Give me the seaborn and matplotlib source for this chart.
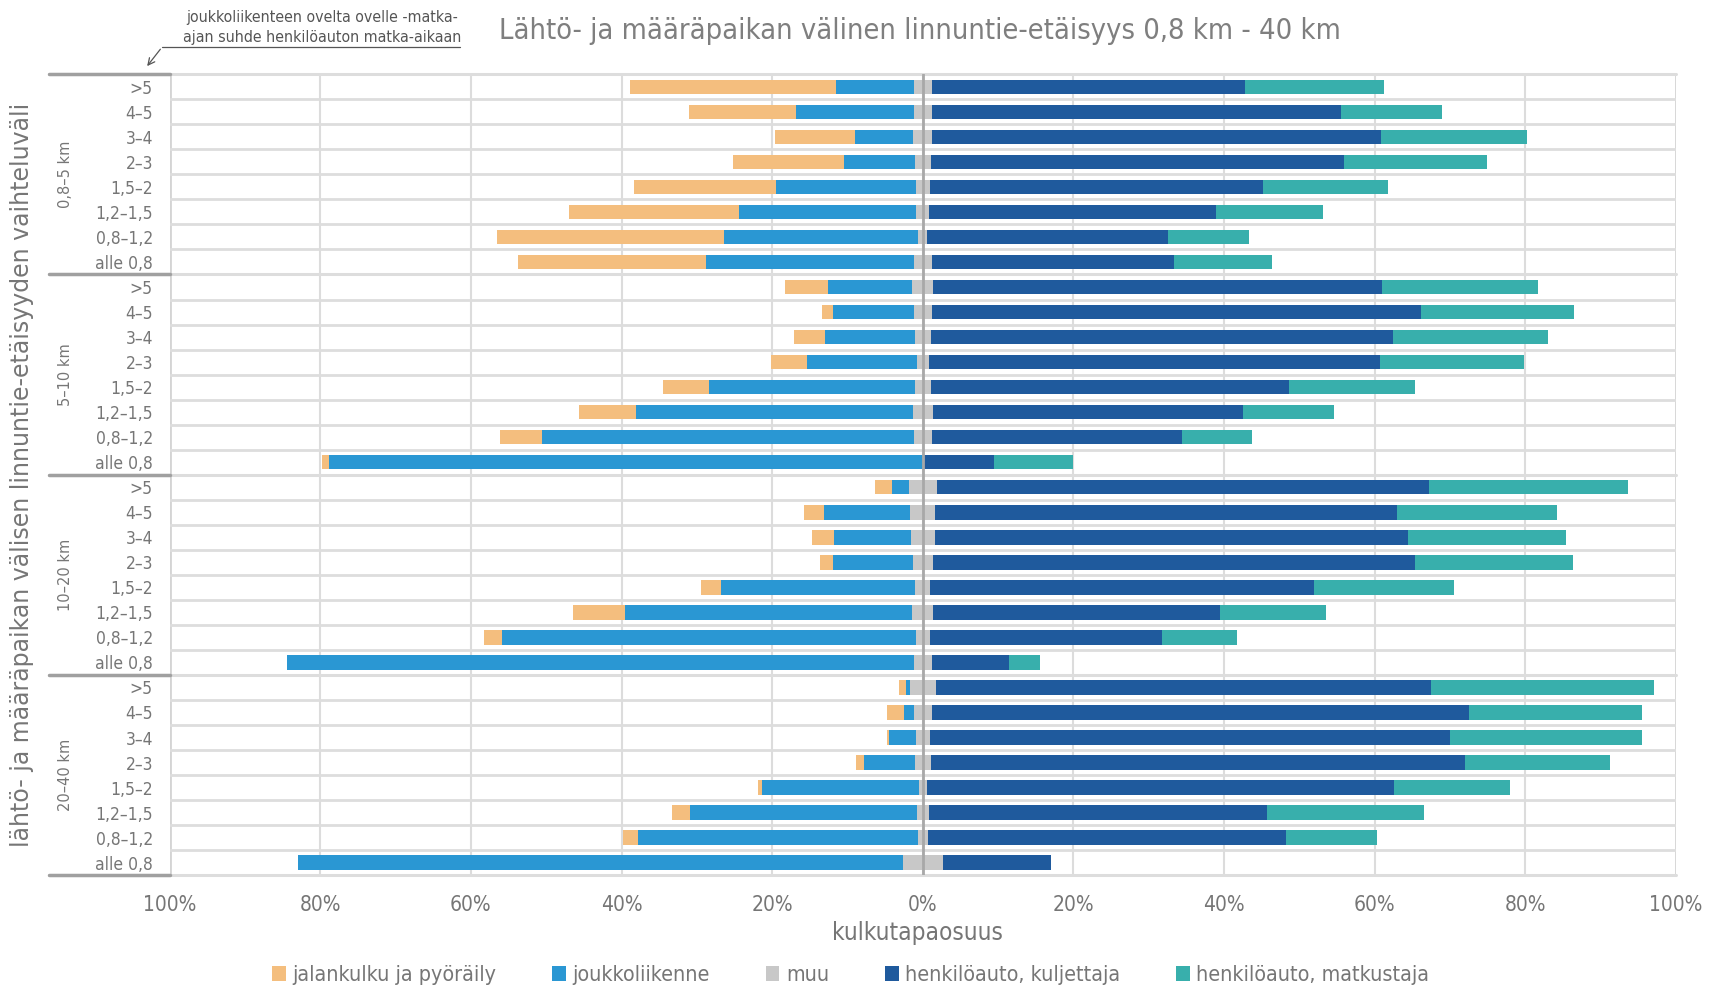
import numpy as np
import pandas as pd
import matplotlib
matplotlib.use('Agg')
import matplotlib.pyplot as plt
import seaborn as sns
from matplotlib.patches import Patch
import matplotlib.transforms as mtransforms

# ryhmät ja suhdeluokat (ylhäältä alas)
ryhmat = ['0,8–5 km', '5–10 km', '10–20 km', '20–40 km']
suhteet = ['>5', '4–5', '3–4', '2–3', '1,5–2', '1,2–1,5', '0,8–1,2', 'alle 0,8']

# kulkutapaosuudet (%)
jalankulku = [27.3, 14.3, 10.7, 14.7, 18.8, 22.5, 30.2, 25.0,
              5.7, 1.5, 4.0, 4.7, 6.1, 7.5, 5.7, 1.0,
              2.3, 2.6, 2.9, 1.7, 2.6, 6.8, 2.3, 0.0,
              0.8, 2.3, 0.2, 1.1, 0.6, 2.4, 1.9, 0.0]
joukko = [10.4, 15.6, 7.7, 9.4, 18.6, 23.6, 25.8, 27.6,
          11.2, 10.8, 12.0, 14.6, 27.4, 36.8, 49.3, 78.8,
          2.2, 11.5, 10.2, 10.6, 25.8, 38.2, 55.0, 83.2,
          0.6, 1.3, 3.6, 6.7, 20.8, 30.1, 37.2, 80.3]
muu = [2.3, 2.4, 2.5, 2.1, 1.8, 1.7, 1.2, 2.4,
       2.8, 2.3, 2.1, 1.6, 2.1, 2.6, 2.4, 0.0,
       3.7, 3.3, 3.1, 2.6, 2.0, 2.8, 1.8, 2.4,
       3.4, 2.3, 1.8, 2.1, 1.0, 1.6, 1.3, 5.3]
kuljettaja = [41.6, 54.3, 59.6, 54.9, 44.3, 38.1, 31.9, 32.2,
              59.6, 65.0, 61.4, 59.9, 47.6, 41.2, 33.2, 9.4,
              65.4, 61.3, 62.9, 64.0, 50.9, 38.1, 30.9, 10.2,
              65.7, 71.3, 69.1, 70.9, 62.1, 44.9, 47.5, 14.3]
matkustaja = [18.5, 13.4, 19.4, 19.0, 16.5, 14.2, 10.8, 12.9,
              20.7, 20.3, 20.5, 19.1, 16.7, 12.1, 9.3, 10.6,
              26.4, 21.3, 20.9, 21.0, 18.6, 14.0, 9.9, 4.1,
              29.7, 23.0, 25.5, 19.3, 15.4, 20.9, 12.1, 0.0]

nimet = ['jalankulku ja pyöräily', 'joukkoliikenne', 'muu',
         'henkilöauto, kuljettaja', 'henkilöauto, matkustaja']
varit = ['#F4BE7E', '#2A97D3', '#C8C8C8', '#1F5A9D', '#38AFAC']
harmaa = '#767676'

sns.set_theme(style='white')
plt.rcParams['font.family'] = ['DejaVu Sans']
plt.rcParams['font.stretch'] = 'condensed'
plt.rcParams['axes.unicode_minus'] = False

df = pd.DataFrame({'rivi': np.arange(len(jalankulku)), 'jal': jalankulku, 'jouk': joukko,
                   'muu': muu, 'kulj': kuljettaja, 'matk': matkustaja})
# muu keskitetään nollan ympärille
df['v_jal'] = -(df.muu / 2 + df.jouk + df.jal)
df['v_jouk'] = -(df.muu / 2 + df.jouk)
df['v_muu'] = -df.muu / 2
df['o_matk'] = df.muu / 2 + df.kulj + df.matk
df['o_kulj'] = df.muu / 2 + df.kulj
df['o_muu'] = df.muu / 2

fig = plt.figure(figsize=(17.15, 9.9), dpi=100)
ax = fig.add_axes([0.0989, 0.116, 0.8784, 0.809])

for x in range(-80, 100, 20):
    ax.axvline(x, color='#DCDCDC', lw=1.5, zorder=0)
for x in (-100, 100):
    ax.axvline(x, color='#D4D4D4', lw=2, zorder=0)

kerrokset = [('v_jal', varit[0]), ('v_jouk', varit[1]), ('v_muu', varit[2]),
             ('o_matk', varit[4]), ('o_kulj', varit[3]), ('o_muu', varit[2])]
for sarake, vari in kerrokset:
    sns.barplot(data=df, x=sarake, y='rivi', orient='h', native_scale=True,
                color=vari, saturation=1, width=0.58, errorbar=None,
                linewidth=0, ax=ax)

ax.axvline(0, color='#A8A8A8', lw=2, zorder=4)

n = len(df)
for k in range(1, n):
    if k % 8:
        ax.axhline(k - 0.5, color='#DDDDDD', lw=2, zorder=2)
trans = mtransforms.blended_transform_factory(ax.transAxes, ax.transData)
for g in range(5):
    y = g * 8 - 0.5
    ax.plot([-0.08, 1.0], [y, y], transform=trans, color='#DDDDDD', lw=2.2,
            clip_on=False, zorder=2)
    ax.plot([-0.08, 0.0], [y, y], transform=trans, color='#A0A0A0', lw=2.5,
            clip_on=False, zorder=3)

for g, nimi in enumerate(ryhmat):
    ax.text(-0.069, g * 8 + 3.5, nimi, transform=trans, rotation=90, ha='center',
            va='center', fontsize=10.5, color=harmaa, fontstretch='normal')

ax.set_xlim(-100, 100)
ax.set_ylim(n - 0.5, -0.5)
ax.set_xticks(range(-100, 101, 20))
ax.set_xticklabels([f'{abs(v)}%' for v in range(-100, 101, 20)])
ax.set_yticks(range(n))
ax.set_yticklabels(suhteet * len(ryhmat))
ax.tick_params(axis='y', length=0, pad=12, labelsize=12.5, labelcolor=harmaa)
ax.tick_params(axis='x', length=0, pad=14, labelsize=15, labelcolor=harmaa)
ax.set_xlabel('')
ax.set_ylabel('')
for s in ax.spines.values():
    s.set_visible(False)

fig.text(0.013, 0.52, 'lähtö- ja määräpaikan välisen linnuntie-etäisyyden vaihteluväli',
         rotation=90, ha='center', va='center', fontsize=17, color=harmaa,
         fontstretch='normal')
fig.text(0.5364, 0.969, 'Lähtö- ja määräpaikan välinen linnuntie-etäisyys 0,8 km - 40 km',
         ha='center', va='center', fontsize=20.8, color='#7F7F7F')
fig.text(0.535, 0.058, 'kulkutapaosuus', ha='center', va='center', fontsize=17.5,
         color=harmaa)

fig.text(0.188, 0.9725, 'joukkoliikenteen ovelta ovelle -matka-\najan suhde henkilöauton matka-aikaan',
         ha='center', va='center', fontsize=11.4, color='#555555', linespacing=1.4)
fig.add_artist(plt.Line2D([0.0945, 0.268], [0.9525, 0.9525], color='#555555', lw=0.9))
ax.annotate('', xy=(0.0848, 0.931), xycoords='figure fraction',
            xytext=(0.0945, 0.9525), textcoords='figure fraction',
            arrowprops=dict(arrowstyle='->', color='#555555', lw=0.9))

kahvat = [Patch(facecolor=c, edgecolor='none') for c in varit]
fig.legend(kahvat, nimet, loc='center', bbox_to_anchor=(0.496, 0.015), ncol=5,
           frameon=False, fontsize=15.4, labelcolor=harmaa, handlelength=0.65,
           handleheight=0.65, handletextpad=0.3, columnspacing=2.6)

fig.savefig('out.png', dpi=100)
